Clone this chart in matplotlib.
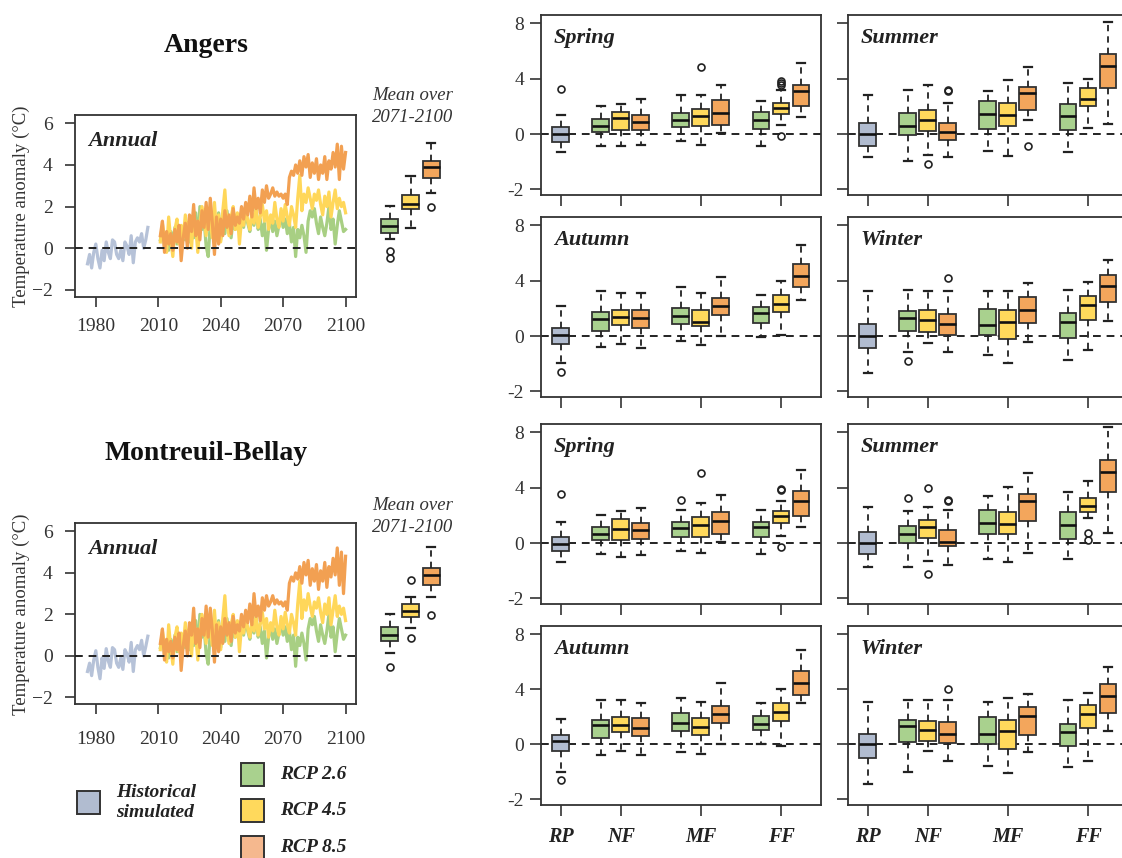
import numpy as np
import matplotlib
matplotlib.use('Agg')
import matplotlib.pyplot as plt
from matplotlib.patches import Rectangle

plt.rcParams['font.family'] = ['Liberation Serif', 'DejaVu Serif']

W, H = 1122, 858

# ---------------- data ----------------
hist_years = list(range(1976, 2006))
rcp_years = list(range(2011, 2101))

angers_hist = [-0.75, -0.3, -0.95, -0.2, 0.2, -0.5, -0.95, -0.1, -0.6, 0.3,
               -0.2, -0.5, 0.4, 0.3, -0.3, -0.5, -0.1, -0.6, 0.3, 0.1,
               -0.3, 0.6, -0.7, 0.3, 0.5, 0.3, 0.7, 0.0, 0.4, 1.0]
angers_rcp85 = [0.6, 1.3, -0.2, 0.8, 0.2, 0.7, -0.1, 0.9, 0.3, 1.1,
                -0.6, 0.5, 1.2, 0.0, 1.6, 0.8, 2.1, 0.6, 1.3, 0.4,
                1.8, 1.0, 2.2, 0.9, 2.4, 1.2, -0.3, 1.5, 0.2, 1.4,
                0.6, 1.8, 1.0, 1.6, 0.7, 1.9, 1.1, 1.5, 1.2, 2.0,
                1.4, 2.2, 1.6, 2.5, 1.5, 2.9, 1.9, 2.4, 1.7, 2.8,
                2.2, 3.0, 2.4, 2.6, 2.9, 2.5, 2.7, 2.5, 2.6, 2.4,
                2.6, 2.1, 3.4, 3.7, 3.5, 4.0, 3.6, 4.2, 3.5, 4.4,
                3.9, 4.5, 3.4, 4.1, 3.6, 4.3, 3.3, 4.0, 3.6, 4.4,
                3.3, 4.2, 3.8, 4.6, 3.9, 5.0, 3.3, 4.9, 3.8, 4.6]
angers_rcp45 = [0.3, 1.2, 0.5, -0.2, 1.5, 0.4, -0.4, 0.9, 1.4, 0.2,
                1.1, 0.5, 1.6, 0.8, 1.3, 0.0, 1.7, 1.0, -0.2, 1.2,
                2.0, 1.4, 0.6, 1.9, 1.2, 0.5, 2.2, 0.8, 1.6, 0.3,
                1.8, 2.8, 1.2, 0.6, 1.5, 2.0, 0.9, 1.7, 0.2, 1.4,
                1.1, 2.0, 1.3, 0.9, 1.7, 1.2, 1.9, 1.0, 1.5, 2.1,
                1.3, 1.8, 0.9, 1.6, 1.2, 2.2, 1.4, 1.0, 1.9, 1.3,
                2.1, 1.5, 1.1, 2.0, 1.6, 1.0, 2.4, 3.5, 1.8, 2.6,
                2.2, 2.9, 2.4, 1.9, 2.6, 2.3, 2.8, 2.1, 1.6, 2.5,
                2.0, 2.7, 1.5, 2.2, 2.8, 1.9, 2.4, 2.0, 2.2, 1.7]
angers_rcp26 = [0.4, 0.9, 0.1, 0.6, -0.1, 0.8, 0.3, 1.0, 0.2, 0.7,
                0.0, 0.9, 0.4, 1.1, 0.3, 0.8, 0.5, 1.7, 0.2, 2.0,
                0.9, 1.4, 0.1, -0.4, 1.2, 0.6, 1.5, 0.8, 1.7, 0.4,
                1.3, 0.7, 1.8, 1.0, 0.5, 1.4, 0.9, 1.6, 1.1, 1.5,
                1.0, 1.7, 1.2, 0.8, 1.6, 1.1, 1.9, 0.9, 1.4, 0.6,
                1.2, -0.1, 0.9, 1.5, 0.8, 1.3, 0.6, 1.1, 1.6, 1.0,
                1.4, 0.7, 1.2, 0.3, 1.0, -0.4, 0.9, 0.5, 1.1, 0.6,
                -0.2, 1.3, 1.8, 1.5, 1.9, 1.2, 0.7, 1.5, 1.0, 0.6,
                1.2, 2.0, 0.9, 1.4, 0.2, 1.1, 1.8, 1.3, 0.8, 0.9]

mb_hist = [-0.75, -0.35, -0.95, -0.2, 0.25, -0.55, -1.1, -0.1, -0.6, 0.35,
           -0.25, -0.55, 0.4, 0.3, -0.35, -0.55, -0.1, -0.65, 0.3, 0.1,
           -0.3, 0.65, -0.75, 0.3, 0.5, 0.3, 0.75, 0.0, 0.45, 0.95]
mb_rcp85 = [0.6, 1.3, -0.2, 0.8, 0.2, 0.7, -0.1, 0.9, 0.3, 1.1,
            -0.7, 0.5, 1.2, 0.0, 1.6, 1.0, 2.3, 0.6, 1.3, 0.4,
            1.8, 1.0, 2.4, 0.9, 2.3, 1.2, -0.3, 1.5, 0.2, 1.4,
            0.6, 1.8, 1.0, 1.6, 0.7, 1.9, 1.1, 1.5, 1.2, 2.0,
            1.4, 2.2, 1.6, 2.5, 1.5, 3.0, 1.9, 2.4, 1.7, 2.8,
            2.2, 2.9, 2.4, 2.6, 2.9, 2.5, 2.7, 2.5, 2.6, 2.4,
            2.6, 2.2, 3.5, 3.8, 3.6, 4.0, 3.7, 4.3, 3.5, 4.5,
            3.9, 4.6, 3.4, 4.2, 3.6, 4.4, 3.2, 4.1, 3.6, 4.5,
            3.3, 4.3, 3.8, 4.7, 3.9, 5.2, 3.4, 5.0, 3.0, 4.8]
mb_rcp45 = [0.3, 1.2, 0.5, -0.3, 1.5, 0.4, -0.4, 0.9, 1.4, 0.2,
            1.1, 0.5, 1.6, 0.8, 1.3, 0.0, 1.7, 1.0, -0.2, 1.2,
            2.0, 1.4, 0.6, 1.9, 1.2, 0.5, 2.2, 0.8, 1.6, 0.3,
            1.8, 2.9, 1.2, 0.6, 1.5, 2.0, 0.9, 1.7, 0.2, 1.4,
            1.1, 2.0, 1.3, 0.9, 1.7, 1.2, 1.9, 1.0, 1.5, 2.1,
            1.3, 1.8, 0.9, 1.6, 1.2, 2.2, 1.4, 1.0, 1.9, 1.3,
            2.1, 1.5, 1.1, 2.0, 1.6, 1.0, 2.5, 3.6, 1.8, 2.7,
            2.2, 3.0, 2.4, 1.9, 2.6, 2.3, 2.8, 2.1, 1.6, 2.5,
            2.0, 2.8, 1.5, 2.2, 2.9, 1.9, 2.4, 2.0, 2.3, 1.7]
mb_rcp26 = [0.4, 0.9, 0.1, 0.6, -0.1, 0.8, 0.3, 1.0, 0.2, 0.7,
            0.0, 0.9, 0.4, 1.1, 0.3, 0.8, 0.5, 1.7, 0.2, 2.0,
            0.9, 1.4, 0.1, -0.4, 1.2, 0.6, 1.5, 0.8, 1.7, 0.4,
            1.3, 0.7, 1.8, 1.0, 0.5, 1.4, 0.9, 1.6, 1.1, 1.5,
            1.0, 1.7, 1.2, 0.8, 1.6, 1.1, 1.9, 0.9, 1.4, 0.6,
            1.2, -0.1, 0.9, 1.5, 0.8, 1.3, 0.6, 1.1, 1.6, 1.0,
            1.4, 0.7, 1.2, 0.3, 1.0, -0.5, 0.9, 0.5, 1.1, 0.6,
            -0.2, 1.3, 1.8, 1.5, 1.9, 1.2, 0.7, 1.5, 1.0, 0.6,
            1.2, 2.0, 0.9, 1.4, 0.2, 1.1, 1.8, 1.3, 0.8, 1.0]

# boxplot stats: (whislo, q1, med, q3, whishi, fliers)
# inset: mean over 2071-2100 for RCP 2.6, 4.5, 8.5
angers_mean = [(0.45, 0.74, 1.06, 1.38, 2.05, [-0.15, -0.45]),
               (0.96, 1.86, 2.12, 2.58, 3.45, []),
               (2.64, 3.37, 3.89, 4.20, 5.05, [1.97])]
mb_mean = [(0.13, 0.74, 1.03, 1.40, 2.01, [-0.52]),
           (1.33, 1.87, 2.14, 2.51, 2.85, [3.65, 0.88]),
           (2.86, 3.43, 3.91, 4.23, 5.23, [1.98])]

# seasonal panels, order: RP hist, NF 2.6/4.5/8.5, MF 2.6/4.5/8.5, FF 2.6/4.5/8.5
angers_spring = [(-0.65, -0.30, 0.00, 0.48, 1.36, [3.29]),
                 (-0.42, 0.12, 0.57, 1.07, 2.02, []),
                 (-0.44, 0.31, 1.19, 1.60, 2.14, []),
                 (-0.39, 0.31, 0.90, 1.40, 2.50, []),
                 (-0.26, 0.48, 1.00, 1.52, 2.81, []),
                 (-0.38, 0.57, 1.29, 1.83, 2.81, [4.88]),
                 (0.07, 0.69, 1.50, 2.48, 3.55, []),
                 (-0.42, 0.36, 1.05, 1.57, 2.38, []),
                 (0.67, 1.48, 1.90, 2.26, 3.21, [3.57, 3.69, 3.81, -0.08]),
                 (1.26, 2.02, 3.14, 3.52, 5.12, [])]
angers_summer = [(-0.83, -0.42, 0.00, 0.83, 2.81, []),
                 (-0.98, -0.04, 0.55, 1.55, 3.17, []),
                 (-0.77, 0.19, 1.02, 1.74, 3.57, [-1.07]),
                 (-0.81, -0.20, 0.12, 0.83, 2.21, [3.10, 3.18]),
                 (-0.62, 0.40, 1.43, 2.38, 3.14, []),
                 (-0.79, 0.57, 1.36, 2.21, 3.93, []),
                 (1.02, 1.76, 2.98, 3.43, 4.81, [-0.44]),
                 (-0.65, 0.33, 1.29, 2.14, 3.69, []),
                 (0.45, 2.00, 2.52, 3.33, 4.00, []),
                 (0.71, 3.33, 4.93, 5.81, 8.10, [])]
angers_autumn = [(-0.98, -0.27, 0.10, 0.60, 2.14, [-1.30]),
                 (-0.38, 0.36, 1.20, 1.73, 3.29, []),
                 (-0.30, 0.79, 1.37, 1.85, 3.08, []),
                 (-0.42, 0.58, 1.27, 1.85, 3.08, []),
                 (-0.19, 0.89, 1.44, 2.04, 3.58, []),
                 (-0.33, 0.70, 1.03, 1.90, 3.08, []),
                 (0.00, 1.51, 2.19, 2.76, 4.25, []),
                 (-0.04, 0.91, 1.66, 2.12, 2.96, []),
                 (0.07, 1.75, 2.31, 3.00, 3.97, []),
                 (2.62, 3.53, 4.33, 5.17, 6.61, [])]
angers_winter = [(-1.35, -0.42, 0.00, 0.89, 3.25, []),
                 (-0.56, 0.36, 1.32, 1.80, 3.34, [-0.90]),
                 (-0.24, 0.26, 1.13, 1.90, 3.29, []),
                 (-0.56, 0.07, 0.84, 1.56, 3.29, [4.16]),
                 (-0.69, 0.05, 0.79, 1.92, 3.29, []),
                 (-0.98, -0.12, 0.99, 1.88, 3.25, []),
                 (-0.23, 0.94, 1.90, 2.84, 3.85, []),
                 (-0.85, -0.08, 1.01, 1.68, 3.34, []),
                 (-0.51, 1.13, 2.24, 2.88, 3.87, []),
                 (1.10, 2.48, 3.61, 4.40, 5.46, [])]
mb_spring = [(-0.70, -0.30, -0.02, 0.43, 1.51, [3.57]),
             (-0.38, 0.24, 0.67, 1.15, 2.06, []),
             (-0.49, 0.19, 1.05, 1.75, 2.30, []),
             (-0.43, 0.29, 0.96, 1.46, 2.54, []),
             (-0.29, 0.46, 1.10, 1.51, 2.37, [3.09]),
             (-0.37, 0.46, 1.32, 1.87, 2.90, [5.05]),
             (0.07, 0.67, 1.60, 2.25, 3.47, []),
             (-0.40, 0.41, 1.15, 1.53, 2.40, []),
             (0.50, 1.46, 1.94, 2.35, 3.07, [3.80, 3.93, -0.13]),
             (1.15, 1.92, 3.07, 3.74, 5.29, [])]
mb_summer = [(-0.88, -0.40, -0.01, 0.77, 2.59, []),
             (-0.88, -0.01, 0.62, 1.25, 2.35, [3.26]),
             (-0.64, 0.34, 1.15, 1.68, 2.59, [3.98, -1.10]),
             (-0.79, -0.11, 0.10, 0.98, 2.42, [3.07, 3.14]),
             (-0.58, 0.62, 1.44, 2.40, 3.43, []),
             (-0.70, 0.62, 1.39, 2.23, 4.07, []),
             (-0.37, 1.60, 3.02, 3.54, 5.08, []),
             (-0.58, 0.31, 1.34, 2.25, 3.69, []),
             (1.82, 2.25, 2.71, 3.26, 4.50, [0.74, 0.25]),
             (0.72, 3.66, 5.13, 6.01, 8.41, [])]
mb_autumn = [(-1.01, -0.25, 0.24, 0.69, 1.83, [-1.29]),
             (-0.37, 0.48, 1.38, 1.79, 3.26, []),
             (-0.25, 0.88, 1.43, 2.00, 3.21, []),
             (-0.37, 0.64, 1.19, 1.95, 3.02, []),
             (-0.27, 0.95, 1.52, 2.26, 3.38, []),
             (-0.36, 0.69, 1.29, 1.93, 3.10, []),
             (0.05, 1.55, 2.19, 2.79, 4.45, []),
             (0.05, 1.07, 1.48, 2.07, 2.98, []),
             (-0.07, 1.67, 2.38, 2.98, 4.05, []),
             (3.02, 3.57, 4.45, 5.33, 6.83, [])]
mb_winter = [(-1.43, -0.51, 0.00, 0.79, 3.10, []),
             (-0.99, 0.19, 1.37, 1.75, 3.23, []),
             (-0.24, 0.24, 1.03, 1.68, 3.23, []),
             (-0.61, 0.07, 0.79, 1.65, 3.23, [4.05]),
             (-0.77, 0.02, 0.79, 1.99, 3.11, []),
             (-1.04, -0.15, 1.00, 1.77, 3.40, []),
             (-0.26, 0.67, 2.08, 2.75, 3.66, []),
             (-0.81, -0.06, 0.91, 1.51, 3.19, []),
             (-0.60, 1.17, 2.18, 2.87, 3.71, []),
             (1.00, 2.28, 3.54, 4.36, 5.63, [])]

period_labels = ['RP', 'NF', 'MF', 'FF']
season_names = ['Spring', 'Summer', 'Autumn', 'Winter']
ts_ticks = [1980, 2010, 2040, 2070, 2100]
legend_labels = ['Historical\nsimulated', 'RCP 2.6', 'RCP 4.5', 'RCP 8.5']

# ---------------- styles ----------------
C_HIST = '#b1bcd0'
C_26 = '#a9d18e'
C_45 = '#ffd95c'
C_85 = '#f3a65c'
L_HIST = '#b6c2d8'
L_26 = '#a8cf83'
L_45 = '#ffd75a'
L_85 = '#f2a052'
EDGE = '#333333'

box_colors = [C_HIST, C_26, C_45, C_85, C_26, C_45, C_85, C_26, C_45, C_85]
box_pos = [0, 2, 3, 4, 6, 7, 8, 10, 11, 12]
tick_pos = [0, 3, 7, 11]

fig = plt.figure(figsize=(W / 100, H / 100), dpi=100)


def px_axes(x0, y0, x1, y1):
    return fig.add_axes([x0 / W, 1 - y1 / H, (x1 - x0) / W, (y1 - y0) / H])


def to_stats(rows):
    out = []
    for lo, q1, med, q3, hi, fl in rows:
        out.append(dict(whislo=lo, q1=q1, med=med, q3=q3, whishi=hi, fliers=fl))
    return out


def draw_boxes(ax, rows, positions, colors, width, capw):
    b = ax.bxp(to_stats(rows), positions=positions, widths=width, capwidths=capw,
               patch_artist=True, showfliers=True,
               boxprops=dict(edgecolor=EDGE, linewidth=1.3),
               medianprops=dict(color='#111111', linewidth=1.9),
               whiskerprops=dict(color='#222222', linewidth=1.3, linestyle=(0, (3.5, 2.8))),
               capprops=dict(color='#222222', linewidth=1.6),
               flierprops=dict(marker='o', markerfacecolor='none', markeredgecolor='#222222',
                               markersize=5, markeredgewidth=1.2))
    for patch, c in zip(b['boxes'], colors):
        patch.set_facecolor(c)
    return b


def style_spines(ax):
    for s in ax.spines.values():
        s.set_color(EDGE)
        s.set_linewidth(1.3)


def fwd(y):
    y = np.asarray(y, dtype=float)
    return np.where(y < 0, 2 * y, y)


def inv(t):
    t = np.asarray(t, dtype=float)
    return np.where(t < 0, t / 2, t)


# ---------------- time-series panels ----------------
ts_specs = [
    (115, 296.7, angers_hist, angers_rcp26, angers_rcp45, angers_rcp85, angers_mean, 8),
    (523, 704.3, mb_hist, mb_rcp26, mb_rcp45, mb_rcp85, mb_mean, 12),
]
for (y0, y1, hist, r26, r45, r85, means, xpad) in ts_specs:
    ax = px_axes(75, y0, 356, y1)
    ax.plot(hist_years, hist, color=L_HIST, lw=2.3, solid_joinstyle='round')
    ax.plot(rcp_years, r26, color=L_26, lw=2.3, solid_joinstyle='round')
    ax.plot(rcp_years, r45, color=L_45, lw=2.3, solid_joinstyle='round')
    ax.plot(rcp_years, r85, color=L_85, lw=2.3, solid_joinstyle='round')
    ax.axhline(0, color='#222222', lw=1.4, ls=(0, (4, 3)), zorder=5)
    ax.set_xlim(1970, 2105)
    ax.set_ylim(-2.33, 6.4)
    ax.set_xticks(ts_ticks)
    ax.set_yticks([-2, 0, 2, 4, 6])
    ax.tick_params(axis='both', direction='out', length=7, width=1.2, color=EDGE,
                   labelsize=14, labelcolor='#333333')
    ax.tick_params(axis='y', pad=9)
    ax.tick_params(axis='x', pad=xpad)
    style_spines(ax)
    ax.text(0.046, 0.858, 'Annual', transform=ax.transAxes, fontsize=16,
            fontweight='bold', style='italic', va='center', ha='left', color='#222222')

    axi = px_axes(369, y0, 452, y1)
    draw_boxes(axi, means, [1, 2, 3], [C_26, C_45, C_85], 0.82, 0.4)
    axi.set_xlim(0, 4)
    axi.set_ylim(-2.33, 6.4)
    axi.axis('off')

# ---------------- seasonal panels ----------------
rows_px = [(15, 195), (217, 397), (424, 604), (626, 805)]
cols_px = [(540.7, 821), (847.7, 1128)]
panel_data = [[angers_spring, angers_summer], [angers_autumn, angers_winter],
              [mb_spring, mb_summer], [mb_autumn, mb_winter]]
panel_names = [['Spring', 'Summer'], ['Autumn', 'Winter'],
               ['Spring', 'Summer'], ['Autumn', 'Winter']]

for r, (ya, yb) in enumerate(rows_px):
    for c, (xa, xb) in enumerate(cols_px):
        ax = px_axes(xa, ya, xb, yb)
        ax.set_yscale('function', functions=(fwd, inv))
        ax.axhline(0, color='#222222', lw=1.4, ls=(0, (4, 3)), zorder=1)
        draw_boxes(ax, panel_data[r][c], box_pos, box_colors, 0.84, 0.4)
        ax.set_xlim(-1, 13)
        ax.set_ylim(-2.2, 8.6)
        ax.set_xticks(tick_pos)
        ax.set_yticks([-2, 0, 4, 8])
        ax.tick_params(axis='both', direction='out', length=8, width=1.2, color=EDGE,
                       labelsize=14, labelcolor='#333333')
        ax.tick_params(axis='y', pad=4)
        ax.tick_params(axis='x', pad=8)
        if r == 3:
            ax.set_xticklabels(period_labels, fontweight='bold', style='italic',
                               fontsize=14.5, color='#222222')
        else:
            ax.set_xticklabels([])
        if c == 0:
            ax.set_yticklabels(['-2', '0', '4', '8'])
        else:
            ax.set_yticklabels([])
        ax.yaxis.set_minor_locator(matplotlib.ticker.NullLocator())
        style_spines(ax)
        ax.text(0.047, 0.87, panel_names[r][c], transform=ax.transAxes, fontsize=16,
                fontweight='bold', style='italic', va='center', ha='left', color='#222222')

# ---------------- overlay texts & legend ----------------
ov = fig.add_axes([0, 0, 1, 1], zorder=-1)
ov.set_xlim(0, W)
ov.set_ylim(H, 0)
ov.axis('off')

ov.text(206, 45, 'Angers', fontsize=20, fontweight='bold', ha='center', va='center', color='#111111')
ov.text(206, 453, 'Montreuil-Bellay', fontsize=20, fontweight='bold', ha='center', va='center', color='#111111')
for yy in (95, 505):
    ov.text(413, yy, 'Mean over', fontsize=13.5, style='italic', ha='center', va='center', color='#333333')
    ov.text(413, yy + 22, '2071-2100', fontsize=13.5, style='italic', ha='center', va='center', color='#333333')
for yc in (206, 614):
    ov.text(21, yc, 'Temperature anomaly (°C)', fontsize=13.5, rotation=90,
            ha='center', va='center', color='#333333')

legend_items = [(77, 791, C_HIST, 116), (241, 763, C_26, 280), (241, 799, C_45, 280), (241, 836, '#f5b88e', 280)]
for (lx, ly, col, tx), lab in zip(legend_items, legend_labels):
    ov.add_patch(Rectangle((lx, ly), 23, 23, facecolor=col, edgecolor=EDGE, lw=1.4))
    ov.text(tx, ly + 11.5, lab, fontsize=14, fontweight='bold', style='italic',
            ha='left', va='center', color='#222222', linespacing=1.25)

fig.savefig('out.png', dpi=100)
